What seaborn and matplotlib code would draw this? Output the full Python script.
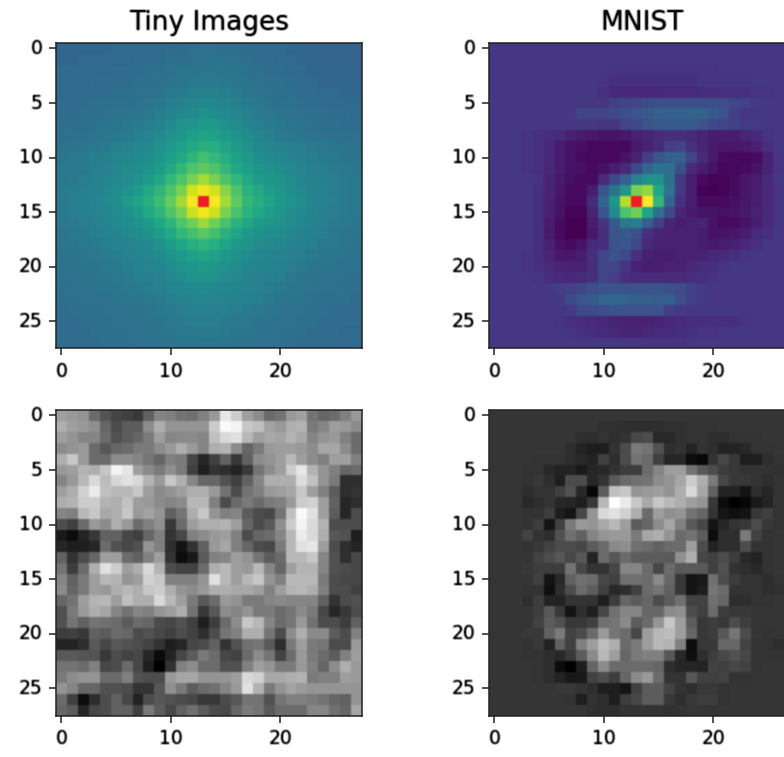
import numpy as np
import seaborn as sns
from matplotlib import pyplot as plt

tiny_filter = [
    [33,33,33,33,33,34,34,34,34,34,35,35,36,37,37,36,36,35,35,34,34,33,33,32,32,32,32,32],
    [33,33,34,34,34,34,34,35,35,35,36,36,37,38,38,37,37,36,35,35,34,34,33,33,32,32,32,32],
    [34,34,34,34,34,35,35,35,36,36,37,38,38,39,39,38,38,37,36,35,35,34,34,33,33,33,32,32],
    [34,34,34,35,35,35,35,36,36,37,38,39,40,41,41,40,39,38,37,36,36,35,34,34,33,33,33,33],
    [34,34,35,35,35,36,36,37,37,38,40,41,42,43,43,42,41,39,38,37,36,36,35,35,34,34,33,33],
    [35,35,35,36,36,37,37,38,39,40,42,43,45,46,46,45,43,41,40,38,37,37,36,35,35,34,34,34],
    [35,35,36,36,37,38,38,39,40,42,44,46,48,50,49,47,45,43,41,40,38,38,37,36,36,35,35,34],
    [36,36,36,37,38,39,40,41,42,44,47,50,52,54,53,51,48,45,43,41,40,39,38,37,36,36,35,35],
    [36,37,37,38,39,40,41,43,45,47,50,53,56,58,57,54,51,48,45,43,41,40,39,38,37,37,36,36],
    [38,38,39,40,41,43,45,46,47,50,53,57,60,63,62,58,54,50,47,45,44,43,42,41,40,39,38,37],
    [39,40,41,42,43,45,46,47,49,52,56,60,65,70,66,62,57,53,49,47,46,45,43,42,41,40,39,38],
    [40,40,41,43,44,46,48,49,51,55,60,66,72,75,72,66,60,56,52,50,48,47,45,43,42,41,40,39],
    [40,41,42,43,45,47,49,51,54,59,66,72,80,86,80,72,66,60,55,52,50,48,46,44,43,42,41,40],
    [41,42,43,44,46,48,50,54,60,65,72,80,93,98,93,82,72,64,60,55,52,49,47,45,44,42,41,40],
    [41,42,43,45,47,49,54,58,63,68,76,86,99,120,100,86,75,66,62,58,54,51,48,45,44,43,41,40],
    [40,42,43,44,46,48,50,54,60,65,72,80,92,98,92,80,71,64,60,55,52,49,47,45,43,42,41,40],
    [40,41,42,43,45,47,49,51,54,59,65,72,78,85,78,71,64,59,54,52,50,48,46,44,43,41,40,39],
    [39,40,41,42,44,45,47,48,50,55,60,66,70,74,70,64,58,53,50,49,48,46,44,43,42,40,39,39],
    [39,39,40,41,42,44,45,46,47,50,55,59,63,65,62,58,53,50,48,47,46,44,43,42,40,40,39,38],
    [38,38,39,40,41,42,44,45,46,48,51,54,57,59,57,53,50,48,46,45,44,43,42,40,39,39,38,37],
    [37,38,38,39,40,41,42,44,45,46,48,50,52,54,52,50,48,46,45,44,43,42,40,39,38,38,37,37],
    [37,37,38,38,39,40,41,42,43,45,47,48,50,51,50,48,47,45,44,43,42,40,39,38,38,37,37,36],
    [36,37,37,38,38,39,40,41,42,43,45,46,47,48,47,46,45,44,43,42,40,39,39,38,37,37,36,36],
    [36,36,37,37,37,38,39,39,40,41,43,44,45,46,45,45,44,43,42,40,39,38,38,37,36,36,36,35],
    [35,36,36,36,37,37,38,38,39,40,41,42,43,44,43,43,42,41,40,39,38,37,37,36,36,35,35,35],
    [35,35,36,36,36,37,37,38,38,39,40,41,42,42,42,41,40,40,39,38,37,37,36,36,35,35,35,35],
    [35,35,35,36,36,36,37,37,38,38,39,40,40,41,41,40,39,39,38,37,37,36,36,35,35,35,34,34],
    [35,35,35,35,36,36,36,37,37,37,38,39,39,39,39,39,38,38,37,37,36,36,35,35,35,34,34,34],
]

mnist_filter = [
    [16,16,16,16,16,16,16,16,16,16,16,16,16,16,16,16,16,16,16,16,16,16,16,16,16,16,16,16],
    [16,16,16,16,16,16,16,16,16,16,16,16,16,16,16,16,16,16,16,16,16,16,16,16,16,16,16,16],
    [16,16,16,16,16,16,16,16,16,16,16,15,15,15,15,15,15,15,15,15,15,16,16,16,16,16,16,16],
    [16,16,16,16,16,16,16,16,16,16,15,14,14,14,14,14,14,14,14,15,15,15,15,15,16,16,16,16],
    [16,16,16,16,16,16,16,16,16,16,14,11,11,11,11,11,12,12,12,13,13,14,14,14,15,15,16,16],
    [16,16,16,16,16,16,16,16,16,16,16,19,20,21,23,24,24,24,24,24,24,23,21,19,17,16,16,16],
    [16,16,16,16,16,16,16,16,20,20,20,22,24,26,28,30,30,30,31,31,28,26,18,16,16,16,16,16],
    [16,16,16,16,16,16,16,16,16,16,15,15,20,22,25,27,28,28,28,25,22,20,19,17,17,16,16,16],
    [16,16,16,15,14,13,12,9,7,6,5,5,6,9,10,12,13,13,12,10,8,8,8,10,12,15,16,16],
    [16,16,16,15,14,11,8,5,4,2,2,2,2,7,9,12,18,20,14,10,7,6,6,7,9,13,16,16],
    [16,16,16,15,14,11,8,5,3,2,2,2,5,9,18,26,30,30,20,12,7,3,2,2,3,9,15,16],
    [16,16,16,15,14,11,8,5,4,3,4,8,12,22,32,38,36,24,12,8,5,2,2,3,5,10,15,16],
    [16,16,16,16,15,10,7,4,3,3,12,22,30,44,50,50,36,16,8,3,1,1,3,6,8,12,16,16],
    [16,16,16,16,14,10,6,3,3,8,26,38,52,80,84,60,38,16,8,1,0,1,3,6,8,11,15,16],
    [16,16,16,16,14,9,5,3,3,12,32,52,88,120,100,66,32,14,8,3,3,3,4,6,8,11,15,16],
    [16,16,16,16,14,9,5,1,1,10,26,48,72,78,58,36,22,10,7,5,5,4,5,7,9,12,15,16],
    [16,16,16,16,14,8,3,0,0,8,15,28,40,42,30,18,10,8,9,10,5,3,3,5,8,11,15,16],
    [16,16,16,16,14,7,3,0,0,6,13,26,28,24,14,10,9,9,9,8,5,5,6,8,12,14,16,16],
    [16,16,16,16,14,9,4,3,5,12,13,25,26,22,12,9,9,9,9,8,7,8,9,11,14,16,16,16],
    [16,16,16,15,13,10,6,6,8,14,21,25,22,14,9,8,8,9,9,9,11,12,13,15,16,16,16,16],
    [16,16,16,15,14,12,10,9,9,13,21,20,15,9,8,8,9,9,11,13,14,15,16,16,16,16,16,16],
    [16,16,16,16,15,13,12,11,12,14,20,18,14,12,12,12,12,12,13,14,15,16,16,16,16,16,16,16],
    [16,16,16,16,16,16,18,19,21,24,25,25,25,25,25,26,24,23,19,17,16,16,16,16,16,16,16,16],
    [16,16,16,16,16,16,17,22,26,28,32,33,32,30,30,29,30,24,19,17,16,16,16,16,16,16,16,16],
    [16,16,16,16,16,16,16,17,22,22,24,25,25,25,25,25,18,17,16,16,16,16,16,16,16,16,16,16],
    [16,16,16,16,16,16,15,14,13,12,11,10,9,9,9,10,11,12,13,13,14,14,13,15,16,16,16,16],
    [16,16,16,16,16,16,16,15,14,13,12,11,10,10,11,12,12,13,14,15,15,16,16,16,16,16,16,16],
    [16,16,16,16,16,16,16,16,16,16,16,16,16,16,15,15,15,15,16,16,16,16,16,16,16,16,16,16],
]

tiny_gray = [
    [62,60,58,42,33,27,25,22,38,52,50,45,44,50,60,90,80,62,55,42,45,60,63,45,40,42,50,60],
    [68,62,60,56,40,30,36,36,55,68,58,58,58,58,80,98,95,78,75,64,60,68,70,48,52,62,60,55],
    [62,58,52,52,42,32,36,40,48,62,52,54,54,52,75,85,88,72,62,66,64,70,66,52,58,60,50,42],
    [55,58,60,42,34,40,42,48,48,55,60,68,60,52,68,70,55,40,48,60,62,62,60,55,65,65,55,42],
    [68,78,60,42,42,55,55,52,46,40,50,48,28,15,25,38,22,38,55,58,62,72,62,55,50,62,62,50],
    [60,62,70,68,78,95,90,62,54,48,56,48,25,12,20,18,14,22,45,55,62,80,90,70,58,50,40,42],
    [52,60,72,85,74,84,88,84,70,60,78,68,52,40,40,32,25,38,52,68,68,68,86,76,58,48,18,18],
    [62,68,82,92,75,72,72,78,62,54,58,62,68,68,60,45,30,45,50,60,62,65,78,62,50,36,18,20],
    [68,70,80,80,70,68,76,62,60,55,52,55,72,72,50,30,42,48,42,48,50,60,80,82,62,38,15,18],
    [52,50,72,78,66,68,78,60,64,58,38,46,68,78,58,50,52,36,30,28,45,75,98,88,62,36,15,30],
    [30,25,42,60,55,68,60,42,50,56,22,42,62,68,68,70,62,40,30,35,56,80,95,85,70,30,30,30],
    [10,5,14,22,38,38,28,25,40,50,20,28,50,55,60,62,50,30,40,42,52,72,92,85,68,34,32,12],
    [15,12,12,15,42,32,28,32,58,50,18,8,20,38,60,65,50,40,30,28,48,72,88,90,62,30,18,14],
    [38,20,30,40,62,62,42,38,50,62,20,5,10,35,50,52,62,58,46,36,42,72,72,78,52,32,18,28],
    [45,24,42,68,88,80,62,68,85,70,30,26,26,42,68,72,62,60,72,52,40,62,70,70,52,32,30,28],
    [52,38,48,62,72,70,58,62,82,78,50,50,50,58,88,72,62,72,78,58,50,72,72,72,48,30,28,28],
    [55,40,48,62,60,68,72,68,78,80,68,58,55,60,68,68,66,66,62,50,62,70,72,68,50,30,30,25],
    [40,45,62,70,72,62,75,68,68,85,72,62,48,35,42,60,58,48,48,52,54,52,52,52,38,20,30,32],
    [32,48,60,68,65,52,45,52,50,58,62,68,45,22,34,55,52,58,48,48,42,46,54,48,28,15,22,30],
    [32,45,38,45,44,42,36,42,40,30,28,32,25,12,24,42,55,78,72,52,42,46,60,44,30,30,24,38],
    [24,25,22,38,36,42,40,30,32,28,25,30,26,18,30,46,50,68,68,46,30,55,68,54,54,36,30,50],
    [14,14,18,35,28,34,32,30,26,20,12,15,28,30,38,20,32,44,46,35,18,48,62,48,46,30,30,60],
    [35,35,33,33,22,30,26,28,15,4,14,28,36,48,42,28,26,42,55,46,26,42,60,48,42,36,50,62],
    [45,45,42,50,28,30,42,28,12,0,20,50,55,42,42,32,32,50,62,58,48,48,60,50,40,55,68,60],
    [48,55,58,58,42,42,50,32,30,30,60,65,65,58,58,58,62,85,82,66,66,68,70,48,50,50,62,60],
    [58,52,40,40,32,32,30,20,20,34,56,48,36,42,44,52,60,88,70,48,58,64,60,58,58,58,58,58],
    [42,25,5,18,30,38,28,14,30,34,32,30,28,22,22,30,34,45,45,32,46,50,50,48,45,40,38,58],
    [40,36,15,28,30,38,38,25,48,36,28,38,44,36,30,28,40,48,45,35,42,42,42,52,52,44,40,65],
]

mnist_gray = [
    [21,21,21,21,21,21,21,21,21,21,21,21,21,21,21,21,21,21,21,21,21,21,21,21,21,21,21,21],
    [21,21,21,21,21,21,21,21,21,21,19,19,18,18,18,18,19,19,20,20,20,21,21,21,21,21,21,21],
    [21,21,21,21,21,21,21,21,18,18,20,18,20,28,30,16,16,19,20,20,18,18,20,20,20,21,21,21],
    [21,21,21,21,21,21,21,18,14,12,12,20,30,48,45,32,18,20,14,20,18,14,14,16,20,20,21,21],
    [21,21,21,21,20,20,20,18,16,14,25,18,30,45,42,25,15,16,5,3,20,28,22,12,12,18,20,21],
    [21,21,21,20,20,16,14,14,10,15,16,20,24,24,42,52,62,62,45,35,30,24,22,20,20,20,19,20],
    [21,21,21,20,22,18,12,30,30,15,20,35,42,44,45,55,58,65,80,68,48,28,22,22,20,18,20,21],
    [21,21,21,18,20,20,25,32,16,3,36,75,78,58,60,62,58,68,85,65,38,14,14,8,18,15,20,21],
    [21,21,21,16,18,20,15,15,12,22,72,100,92,78,66,78,72,68,62,58,22,5,0,3,10,14,20,21],
    [21,21,21,20,20,24,12,8,28,58,85,88,82,68,42,62,56,58,45,40,20,8,6,8,22,25,20,21],
    [21,21,21,20,24,8,26,48,60,58,66,72,62,36,40,55,65,50,35,28,8,15,20,22,30,22,20,21],
    [21,21,21,26,20,18,32,44,38,52,58,60,60,48,65,68,58,42,45,36,5,18,18,48,26,20,21,21],
    [21,21,21,20,22,26,30,30,28,36,42,54,56,44,42,38,42,42,62,30,14,18,18,30,20,20,21,21],
    [21,21,21,21,26,30,34,28,34,14,42,34,42,36,36,36,35,56,68,28,25,30,24,16,14,20,21,21],
    [21,21,21,22,24,24,24,45,28,20,20,28,52,52,42,28,42,35,35,35,25,32,20,18,16,20,21,21],
    [21,21,21,21,25,8,16,38,44,42,28,25,44,44,42,54,40,22,8,10,44,30,24,20,20,18,20,21],
    [21,21,21,20,20,6,18,30,42,36,25,16,18,25,42,46,38,22,8,12,46,42,20,20,20,18,19,21],
    [21,21,21,18,24,14,14,20,20,20,12,24,40,36,40,30,36,44,26,26,44,40,18,18,20,20,21,21],
    [21,21,21,21,24,35,22,8,18,12,28,44,52,52,40,40,54,56,30,25,42,24,22,22,21,21,21,21],
    [21,21,21,21,26,36,32,22,22,25,44,46,54,36,42,58,78,62,36,22,24,22,30,24,21,21,21,21],
    [21,21,21,22,22,38,48,26,30,42,60,46,42,28,62,72,74,62,40,22,24,34,46,30,21,20,21,21],
    [21,21,21,20,22,14,38,25,50,62,74,68,42,48,62,72,70,50,5,22,22,40,40,26,20,20,18,21],
    [21,21,21,20,20,18,16,22,36,54,72,62,40,48,50,50,34,16,6,18,24,28,32,28,20,20,20,21],
    [21,21,21,21,20,18,5,0,12,40,55,42,42,42,42,40,18,15,15,14,26,25,28,26,20,21,21,21],
    [21,21,21,21,20,18,14,10,10,26,30,24,40,54,60,42,20,20,34,25,25,26,20,20,21,21,21,21],
    [21,21,21,21,21,21,22,22,20,18,12,12,8,25,36,36,26,20,18,22,22,20,21,21,21,21,21,21],
    [21,21,21,21,21,21,21,20,12,20,18,12,24,28,36,36,22,18,22,24,24,20,21,21,21,21,21,21],
    [21,21,21,21,21,21,21,21,21,19,18,18,20,20,20,20,19,20,21,21,21,21,21,21,21,21,21,21],
]

titles = ['Tiny Images', 'MNIST']
x_labels = [0, 10, 20]
y_labels = [0, 5, 10, 15, 20, 25]

W, H = 784, 757
TEXT_GRAY = 0.05
viridis_red = plt.get_cmap('viridis').copy()
viridis_red.set_over('#ee1c25')


def soften(chan, pad_mode):
    # reference is a slightly upscaled screenshot, so smooth by about a pixel
    out = np.pad(chan, 1, mode=pad_mode)
    out = (out[:-2, :] + 2 * out[1:-1, :] + out[2:, :]) / 4
    out = (out[:, :-2] + 2 * out[:, 1:-1] + out[:, 2:]) / 4
    return out


def mesh_blur(image, dpi):
    out = image.copy()
    for c in range(3):
        out[:, :, c] = soften(image[:, :, c], 'edge')
    return out, 0, 0


def text_blur(image, dpi):
    alpha = soften(np.pad(image[:, :, 3], 1), 'constant')
    out = np.full(alpha.shape + (4,), TEXT_GRAY)
    out[:, :, 3] = np.minimum(alpha * 1.35, 1)
    return out, -1, -1


fig = plt.figure(figsize=(W / 100, H / 100), dpi=100)

panels = [
    (tiny_filter, viridis_red, 56, 43),
    (mnist_filter, viridis_red, 489, 43),
    (tiny_gray, 'gray', 56, 410),
    (mnist_gray, 'gray', 489, 410),
]

for i, (values, cmap, left, top) in enumerate(panels):
    ax = fig.add_axes([left / W, 1 - (top + 305.5) / H, 306 / W, 305.5 / H])
    sns.heatmap(np.array(values), vmin=0, vmax=100, cmap=cmap, cbar=False, ax=ax)
    ax.collections[0].set_agg_filter(mesh_blur)
    ax.set_xticks(np.array(x_labels) + 0.5, x_labels, rotation=0)
    ax.set_yticks(np.array(y_labels) + 0.5, y_labels, rotation=0)
    ax.tick_params(length=4.8, width=1.1, pad=4.8, labelsize=13.5, color='#222222')
    for label in ax.get_xticklabels() + ax.get_yticklabels():
        label.set_agg_filter(text_blur)
    for spine in ax.spines.values():
        spine.set_visible(True)
        spine.set_linewidth(1.1)
        spine.set_edgecolor('#222222')
    if i < 2:
        ax.set_title(titles[i], fontsize=19, pad=9.5).set_agg_filter(text_blur)

plt.savefig('out.png', dpi=100)
